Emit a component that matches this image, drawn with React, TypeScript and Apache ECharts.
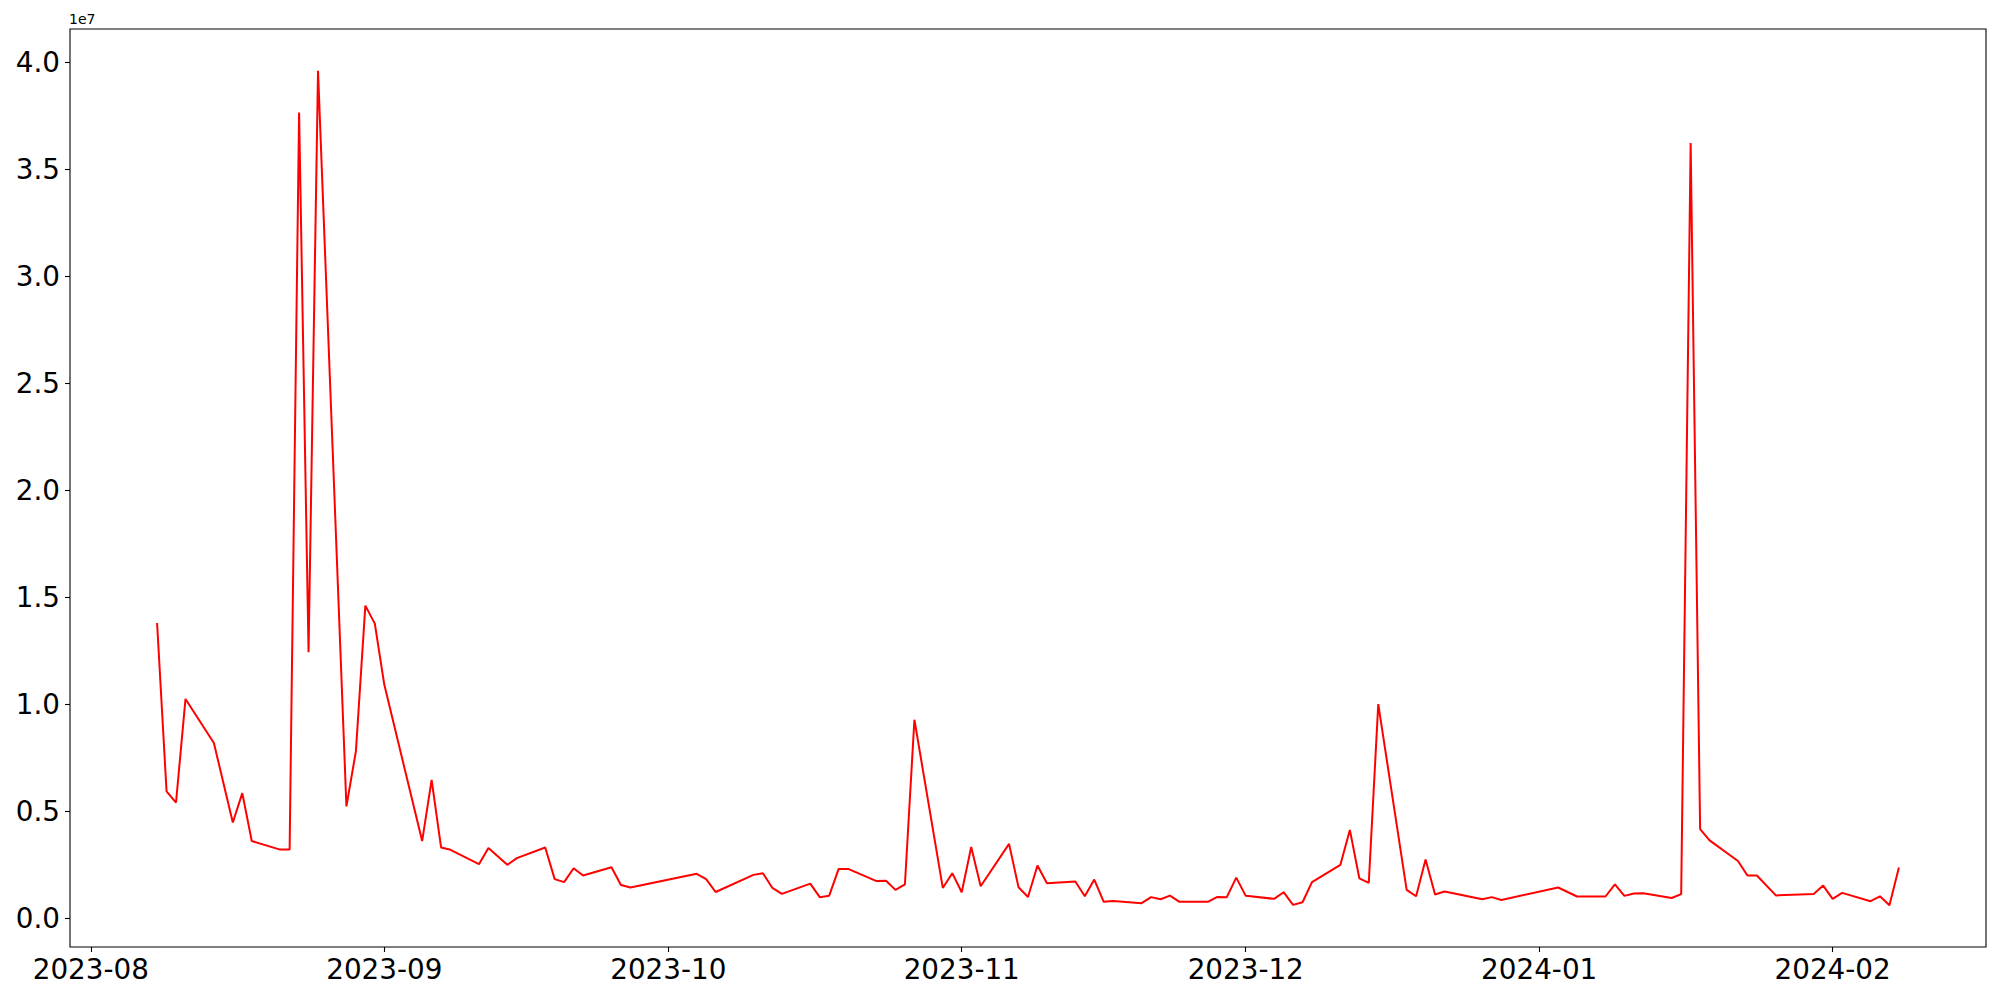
import React, { useEffect, useRef } from "react";
import * as echarts from "echarts";

const dates: string[] = [
  "2023-08-08","2023-08-09","2023-08-10","2023-08-11","2023-08-14","2023-08-16","2023-08-17","2023-08-18",
  "2023-08-21","2023-08-22","2023-08-23","2023-08-24","2023-08-25","2023-08-28","2023-08-29","2023-08-30",
  "2023-08-31","2023-09-01","2023-09-05","2023-09-06","2023-09-07","2023-09-08","2023-09-11","2023-09-12",
  "2023-09-14","2023-09-15","2023-09-18","2023-09-19","2023-09-20","2023-09-21","2023-09-22","2023-09-25",
  "2023-09-26","2023-09-27","2023-10-04","2023-10-05","2023-10-06","2023-10-10","2023-10-11","2023-10-12",
  "2023-10-13","2023-10-16","2023-10-17","2023-10-18","2023-10-19","2023-10-20","2023-10-23","2023-10-24",
  "2023-10-25","2023-10-26","2023-10-27","2023-10-30","2023-10-31","2023-11-01","2023-11-02","2023-11-03",
  "2023-11-06","2023-11-07","2023-11-08","2023-11-09","2023-11-10","2023-11-13","2023-11-14","2023-11-15",
  "2023-11-16","2023-11-17","2023-11-20","2023-11-21","2023-11-22","2023-11-23","2023-11-24","2023-11-27",
  "2023-11-28","2023-11-29","2023-11-30","2023-12-01","2023-12-04","2023-12-05","2023-12-06","2023-12-07",
  "2023-12-08","2023-12-11","2023-12-12","2023-12-13","2023-12-14","2023-12-15","2023-12-18","2023-12-19",
  "2023-12-20","2023-12-21","2023-12-22","2023-12-26","2023-12-27","2023-12-28","2024-01-03","2024-01-05",
  "2024-01-08","2024-01-09","2024-01-10","2024-01-11","2024-01-12","2024-01-15","2024-01-16","2024-01-17",
  "2024-01-18","2024-01-19","2024-01-22","2024-01-23","2024-01-24","2024-01-26","2024-01-30","2024-01-31",
  "2024-02-01","2024-02-02","2024-02-05","2024-02-06","2024-02-07","2024-02-08",
];

// values in millions
const valuesM: number[] = [
  13.8, 5.93, 5.41, 10.25, 8.19, 4.48, 5.85, 3.61,
  3.21, 3.21, 37.65, 12.43, 39.6, 5.23, 7.8, 14.61,
  13.77, 10.92, 3.61, 6.47, 3.31, 3.2, 2.53, 3.29,
  2.5, 2.81, 3.31, 1.83, 1.69, 2.34, 2.0, 2.39,
  1.56, 1.44, 2.08, 1.83, 1.23, 2.03, 2.11, 1.42,
  1.14, 1.62, 0.99, 1.06, 2.31, 2.31, 1.74, 1.76,
  1.33, 1.59, 9.28, 1.42, 2.11, 1.22, 3.33, 1.5,
  3.48, 1.45, 1.0, 2.47, 1.64, 1.72, 1.03, 1.81,
  0.77, 0.81, 0.71, 0.99, 0.89, 1.06, 0.77, 0.77,
  1.0, 0.99, 1.9, 1.05, 0.91, 1.22, 0.63, 0.75,
  1.69, 2.5, 4.13, 1.87, 1.66, 10.01, 1.33, 1.03,
  2.75, 1.11, 1.25, 0.89, 0.99, 0.86, 1.44, 1.02,
  1.02, 1.59, 1.05, 1.16, 1.17, 0.95, 1.13, 36.22,
  4.17, 3.64, 2.68, 2.0, 2.0, 1.07, 1.14, 1.53,
  0.91, 1.19, 0.8, 1.03, 0.61, 2.37,
];

const xTickDates: string[] = ["2023-08-01","2023-09-01","2023-10-01","2023-11-01","2023-12-01","2024-01-01","2024-02-01"];
const yTicks: number[] = [0, 5e6, 10e6, 15e6, 20e6, 25e6, 30e6, 35e6, 40e6];

const toTs = (s: string) => {
  const [y, m, d] = s.split("-").map(Number);
  return Date.UTC(y, m - 1, d);
};

export default function App() {
  const ref = useRef<HTMLDivElement>(null);
  useEffect(() => {
    document.body.style.margin = "0";
    if (!ref.current) return;
    const chart = echarts.init(ref.current, null, { renderer: "svg" });
    const data = dates.map((d, i) => [toTs(d), valuesM[i] * 1e6]);
    const xs = data.map((p) => p[0]);
    const ys = data.map((p) => p[1]);
    const xMinD = Math.min(...xs), xMaxD = Math.max(...xs);
    const yMinD = Math.min(...ys), yMaxD = Math.max(...ys);
    const xm = (xMaxD - xMinD) * 0.05;
    const ym = (yMaxD - yMinD) * 0.05;
    const font = "DejaVu Sans";
    const xTickTs = xTickDates.map(toTs);
    chart.setOption({
      animation: false,
      backgroundColor: "#ffffff",
      grid: {
        left: 70, right: 14, top: 29, bottom: 53,
        show: true, borderColor: "#000000", borderWidth: 1.1, backgroundColor: "transparent",
      },
      xAxis: {
        type: "value",
        min: xMinD - xm,
        max: xMaxD + xm,
        scale: true,
        splitLine: { show: false },
        axisLine: { show: false, onZero: false },
        axisTick: { show: true, inside: false, length: 5, customValues: xTickTs, lineStyle: { color: "#000", width: 1.1 } },
        axisLabel: {
          customValues: xTickTs,
          margin: 8,
          fontSize: 27.8,
          fontFamily: font,
          color: "#000",
          hideOverlap: false,
          formatter: (v: number) => {
            const d = new Date(v);
            const mm = String(d.getUTCMonth() + 1).padStart(2, "0");
            return `${d.getUTCFullYear()}-${mm}`;
          },
        },
      },
      yAxis: {
        type: "value",
        min: yMinD - ym,
        max: yMaxD + ym,
        splitLine: { show: false },
        axisLine: { show: false, onZero: false },
        axisTick: { show: true, inside: false, length: 5, customValues: yTicks, lineStyle: { color: "#000", width: 1.1 } },
        axisLabel: {
          customValues: yTicks,
          margin: 10,
          fontSize: 27.8,
          fontFamily: font,
          color: "#000",
          formatter: (v: number) => (v / 1e7).toFixed(1),
        },
      },
      graphic: [
        {
          type: "text",
          left: 69,
          top: 12,
          style: { text: "1e7", fontSize: 14, fontFamily: font, fill: "#000" },
        },
      ],
      series: [
        {
          type: "line",
          data,
          showSymbol: false,
          symbol: "none",
          lineStyle: { color: "#ff0000", width: 2 },
        },
      ],
    });
    return () => chart.dispose();
  }, []);
  return <div ref={ref} style={{ width: 2000, height: 1000 }} />;
}
